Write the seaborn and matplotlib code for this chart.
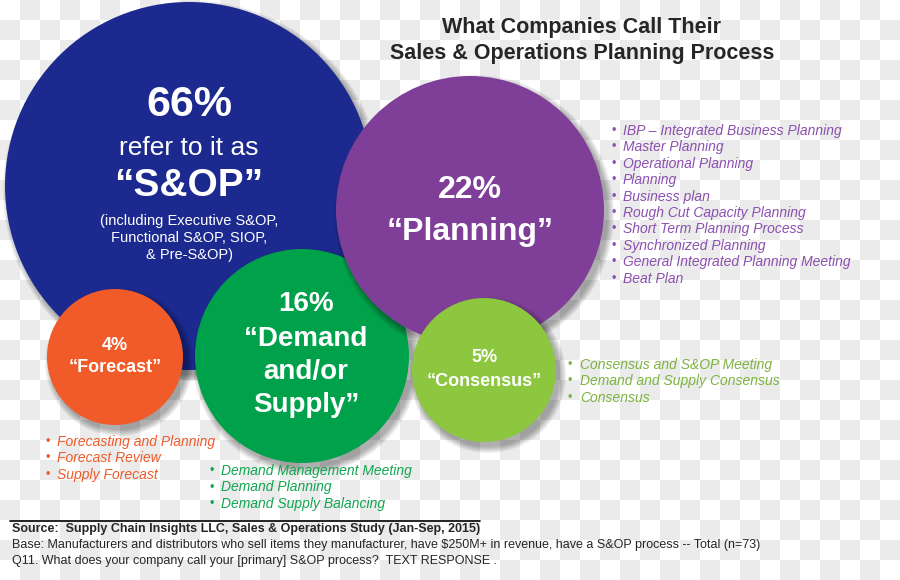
import numpy as np
import seaborn as sns
import matplotlib.pyplot as plt
from matplotlib.patches import Circle
from matplotlib import font_manager

sns.set_theme(style="white")
plt.rcParams["font.family"] = ["Liberation Sans", "DejaVu Sans"]

# data
names = ["S&OP", "Planning", "Demand and/or Supply", "Forecast", "Consensus"]
shares = [66, 22, 16, 4, 5]
planning_terms = ["IBP – Integrated Business Planning", "Master Planning", "Operational Planning",
                  "Planning", "Business plan", "Rough Cut Capacity Planning",
                  "Short Term Planning Process", "Synchronized Planning",
                  "General Integrated Planning Meeting", "Beat Plan"]
consensus_terms = ["Consensus and S&OP Meeting", "Demand and Supply Consensus", "Consensus"]
forecast_terms = ["Forecasting and Planning", "Forecast Review", "Supply Forecast"]
demand_terms = ["Demand Management Meeting", "Demand Planning", "Demand Supply Balancing"]

# layout (pixel coords, y down): centre x, centre y, radius, colour
bubbles = {
    "S&OP": (189, 186, 184, "#1c2a90"),
    "Demand and/or Supply": (302, 356, 107, "#00a14b"),
    "Planning": (470, 210, 134, "#7f3f98"),
    "Forecast": (115, 357, 68, "#f15a29"),
    "Consensus": (484, 370, 72, "#8dc63f"),
}

fig = plt.figure(figsize=(9, 5.8), dpi=100)
ax = fig.add_axes([0, 0, 1, 1])
ax.set_xlim(0, 900)
ax.set_ylim(580, 0)
ax.axis("off")

# transparent-look checkerboard backdrop
rows, cols = np.indices((29, 45))
board = ((rows + cols) % 2).astype(float)
ax.imshow(board, cmap=sns.blend_palette(["#ffffff", "#ebebeb"], as_cmap=True),
          extent=(0, 900, 580, 0), interpolation="nearest", zorder=0)

for i, name in enumerate(["S&OP", "Demand and/or Supply", "Planning", "Forecast", "Consensus"]):
    cx, cy, r, col = bubbles[name]
    for k in range(6):
        ax.add_patch(Circle((cx + 4, cy + 5), r + 1.2 * k, color="black",
                            alpha=0.06, lw=0, zorder=2 + 2 * i))
    ax.add_patch(Circle((cx, cy), r, color=col, lw=0, zorder=3 + 2 * i))

w = dict(color="white", ha="center", va="center", zorder=20)
p = dict(zip(names, shares))

# S&OP bubble
ax.text(189, 105, f"{p['S&OP']}%", fontsize=31, weight="bold", **w)
ax.text(189, 148, "refer to it as", fontsize=19, **w)
ax.text(189, 186, "“S&OP”", fontsize=28, weight="bold", **w)
ax.text(189, 238, "(including Executive S&OP,\nFunctional S&OP, SIOP,\n& Pre-S&OP)",
        fontsize=10.5, linespacing=1.3, **w)

# Planning bubble
ax.text(470, 190, f"{p['Planning']}%", fontsize=23, weight="bold", **w)
ax.text(470, 232, "“Planning”", fontsize=23, weight="bold", **w)

# Demand bubble
ax.text(306, 304, f"{p['Demand and/or Supply']}%", fontsize=20, weight="bold", **w)
for j, line in enumerate(["“Demand", "and/or", "Supply”"]):
    ax.text(306, 339 + 33 * j, line, fontsize=20, weight="bold", **w)

# Forecast bubble
ax.text(115, 345, f"{p['Forecast']}%", fontsize=13, weight="bold", **w)
ax.text(115, 368, "“Forecast”", fontsize=13, weight="bold", **w)

# Consensus bubble
ax.text(484, 358, f"{p['Consensus']}%", fontsize=13, weight="bold", **w)
ax.text(484, 381, "“Consensus”", fontsize=13, weight="bold", **w)

# title
ax.text(582, 28, "What Companies Call Their", fontsize=15.5, weight="bold",
        ha="center", va="center", zorder=20)
ax.text(582, 53, "Sales & Operations Planning Process", fontsize=15.5, weight="bold",
        ha="center", va="center", zorder=20)


def bullets(items, x, y0, step, color):
    for j, t in enumerate(items):
        y = y0 + j * step
        ax.text(x, y, "•", color=color, fontsize=9, ha="left", va="center", zorder=20)
        ax.text(x + 12, y, t, color=color, fontsize=10, style="italic",
                ha="left", va="center", zorder=20)


bullets(planning_terms, 611, 131, 16.4, "#8a4fb0")
bullets(consensus_terms, 568, 365, 16.4, "#7db340")
bullets(forecast_terms, 45, 442, 16.4, "#f05a28")
bullets(demand_terms, 209, 471, 16.5, "#10a64f")

# footer
installed = {f.name for f in font_manager.fontManager.ttflist}
if "Liberation Sans Narrow" in installed:
    ff, fs = "Liberation Sans Narrow", 11
else:
    ff, fs = "Liberation Sans", 9
ax.plot([10, 480], [521, 521], color="black", lw=1.2, zorder=20)
ax.text(12, 529, "Source:  Supply Chain Insights LLC, Sales & Operations Study (Jan-Sep, 2015)",
        family=ff, fontsize=fs, weight="bold", va="center", zorder=20)
ax.text(12, 545, "Base: Manufacturers and distributors who sell items they manufacturer, have $250M+ in revenue, "
        "have a S&OP process -- Total (n=73)", family=ff, fontsize=fs, va="center", zorder=20)
ax.text(12, 561, "Q11. What does your company call your [primary] S&OP process?  TEXT RESPONSE .",
        family=ff, fontsize=fs, va="center", zorder=20)

fig.savefig("out.png", dpi=100)
